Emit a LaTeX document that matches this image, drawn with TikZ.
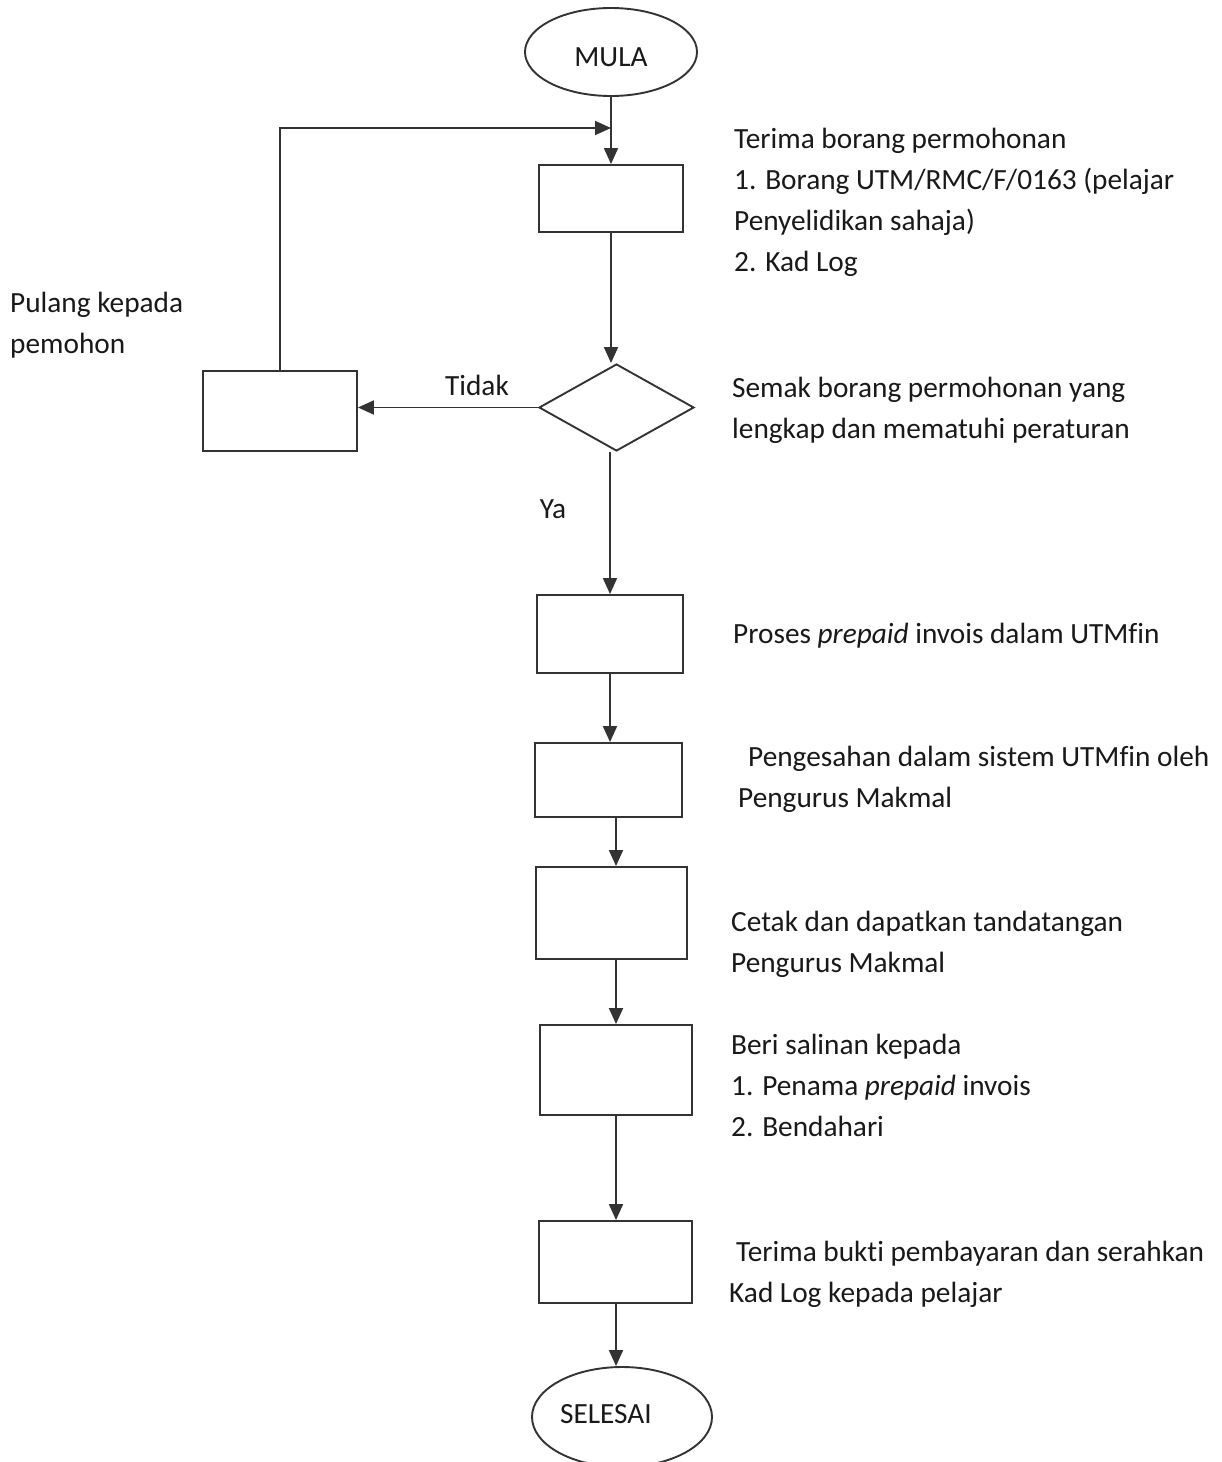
\documentclass[tikz,border=0pt]{standalone}
\usepackage{fontspec}
\setmainfont{Carlito}[Ligatures=NoCommon]
\usetikzlibrary{shapes.geometric,arrows.meta}
\newcommand\mylines[1]{\begin{tabular}[t]{@{}l@{}}#1\end{tabular}}
\begin{document}
\begin{tikzpicture}[x=1pt,y=-1pt,
  ink/.style={draw=black!80, line width=1.9pt},
  box/.style={ink, rectangle, inner sep=0pt},
  term/.style={ink, ellipse, inner sep=0pt},
  decision/.style={ink, diamond, inner sep=0pt},
  arr/.style={draw=black!80, line width=1.9pt, -{Triangle[length=16pt,width=14pt]}},
  txt/.style={inner sep=0pt, anchor=base west, text=black!90, font=\fontsize{29.3}{41}\selectfont},
  lbl/.style={inner sep=0pt, text=black!90, font=\fontsize{29.3}{41}\selectfont}]
\fill[white] (0,0) rectangle (1222,1462);
\useasboundingbox (0,0) rectangle (1222,1462);

% shapes
\node[term, minimum width=172pt, minimum height=88pt] (start) at (611,52) {};
\node[lbl] (startlbl) at (611,57) {MULA};
\node[box, minimum width=144pt, minimum height=67pt] (b1) at (611,198.5) {};
\node[decision, minimum width=155pt, minimum height=87pt] (dec) at (616.5,407.5) {};
\node[box, minimum width=154pt, minimum height=80pt] (pulang) at (280,411) {};
\node[box, minimum width=146pt, minimum height=78pt] (b3) at (610,634) {};
\node[box, minimum width=147pt, minimum height=74pt] (b4) at (608.5,780) {};
\node[box, minimum width=151pt, minimum height=92pt] (b5) at (611.5,913) {};
\node[box, minimum width=152pt, minimum height=90pt] (b6) at (616,1070) {};
\node[box, minimum width=153pt, minimum height=82pt] (b7) at (615.5,1262) {};
\node[term, minimum width=180pt, minimum height=100pt] (end) at (622,1417) {};
\node[lbl] (endlbl) at (606,1414) {SELESAI};
\coordinate (join) at (611,128);

% connectors
\draw[arr] (start.south) -- (b1.north -| start.south);
\draw[arr] (pulang.north) |- (join);
\draw[arr] (b1.south) -- (b1.south |- dec.north);
\draw[arr] (dec.west) -- (pulang.east |- dec.west);
\draw[arr] (b3.north |- dec.south) -- (b3.north);
\draw[arr] (b3.south) -- (b3.south |- b4.north);
\draw[arr] (b4.south -| b6.north) -- (b5.north -| b6.north);
\draw[arr] (b5.south -| b6.north) -- (b6.north);
\draw[arr] (b6.south) -- (b6.south |- b7.north);
\draw[arr] (b7.south -| b6.south) -- (end.north -| b6.south);

% labels on connectors
\node[lbl] (tidak) at (477,385) {Tidak};
\node[lbl] (ya) at (553,509) {Ya};

% descriptions
\node[txt] (t1) at (734,148) {\mylines{Terima borang permohonan\\1. Borang UTM/RMC/F/0163 (pelajar\\Penyelidikan sahaja)\\2. Kad Log}};
\node[txt] (t2) at (732,397) {\mylines{Semak borang permohonan yang\\lengkap dan mematuhi peraturan}};
\node[txt] (t3) at (733,643) {Proses \textit{prepaid} invois dalam UTMfin};
\node[txt] (t4) at (738,766) {\mylines{\hspace*{10pt}Pengesahan dalam sistem UTMfin oleh\\Pengurus Makmal}};
\node[txt] (t5) at (731,931) {\mylines{Cetak dan dapatkan tandatangan\\Pengurus Makmal}};
\node[txt] (t6) at (731,1054) {\mylines{Beri salinan kepada\\1. Penama \textit{prepaid} invois\\2. Bendahari}};
\node[txt] (t7) at (729,1261) {\mylines{\hspace*{7pt}Terima bukti pembayaran dan serahkan\\Kad Log kepada pelajar}};
\node[txt] (t8) at (10,312) {\mylines{Pulang kepada\\pemohon}};
\end{tikzpicture}
\end{document}
